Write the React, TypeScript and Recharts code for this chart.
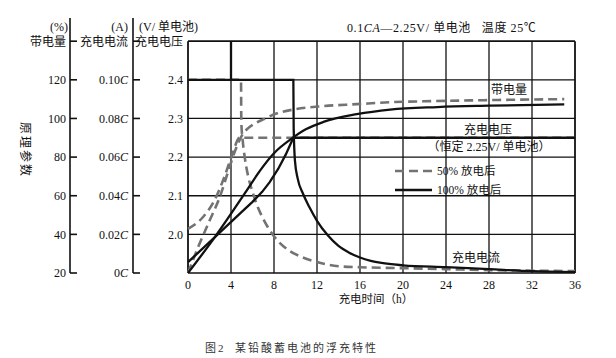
import { LineChart, Line, XAxis, YAxis, ReferenceLine } from 'recharts';

const hours = [0, 4, 8, 12, 16, 20, 24, 28, 32, 36];
const gridHours = [4, 8, 12, 16, 20, 24, 28, 32];
const pctTicks = [20, 40, 60, 80, 100, 120, 140];
const ampTicks = [0, 0.02, 0.04, 0.06, 0.08, 0.1, 0.12];
const voltTicks = [2.0, 2.1, 2.2, 2.3, 2.4, 2.5];
const voltGrid = [2.0, 2.1, 2.2, 2.3, 2.4];

// 100% 放电后 (solid)
const volt100Time = [0, 2.5, 5, 6, 6.9, 7.6, 8.4, 9.1, 9.8, 36];
const volt100 = [1.928, 1.993, 2.058, 2.084, 2.11, 2.135, 2.17, 2.207, 2.25, 2.25];
const cap100Time = [0, 2.5, 5.5, 6.7, 8, 9.7, 11, 12.6, 15.7, 18.8, 23.2, 28, 35];
const cap100 = [20, 38.6, 63, 73, 82, 89.8, 94.5, 98.2, 102.2, 104.6, 105.9, 106.6, 107.3];
const amp100Time = [0, 9.8, 9.83, 9.95, 10.2, 10.7, 11.3, 12, 13, 14, 15, 16, 17, 18, 20, 24, 28, 32, 36];
const amp100 = [0.1, 0.1, 0.075, 0.058, 0.049, 0.041, 0.034, 0.027, 0.0195, 0.014, 0.0105, 0.008, 0.0063, 0.0052, 0.004, 0.003, 0.002, 0.001, 0.0005];
const spikeTime = [4, 4.001];
const spikeAmp = [0.12, 0.1];

// 50% 放电后 (dashed)
const volt50Time = [0, 1.4, 2.5, 3.4, 4.1, 4.8, 36];
const volt50 = [2.014, 2.045, 2.09, 2.15, 2.205, 2.25, 2.25];
const cap50Time = [0, 1.1, 2, 3, 3.7, 4.4, 5.1, 5.6, 6.2, 7, 8.1, 10, 12.6, 15.7, 18.8, 23, 28, 35];
const cap50 = [20, 35.5, 47, 60, 72, 83.5, 92, 95, 97.3, 99.5, 102.3, 104.8, 106.4, 107.4, 108.4, 109, 109.5, 110];
const amp50Time = [0, 4.93, 4.96, 5.1, 5.3, 5.6, 6, 6.5, 7, 8, 9.3, 10.5, 11.8, 14, 16, 20, 24, 28, 32, 36];
const amp50 = [0.1, 0.1, 0.078, 0.068, 0.059, 0.05, 0.042, 0.034, 0.028, 0.019, 0.012, 0.0085, 0.006, 0.0035, 0.003, 0.0025, 0.002, 0.0015, 0.0012, 0.001];

const zip = (ts: number[], vs: number[]) => ts.map((t, i) => ({ t, v: vs[i] }));

const FONT = "'Liberation Serif', 'Noto Sans CJK SC', serif";
const INK = '#111';
const GREY = '#737373';

const near = (a: number, b: number) => Math.abs(a - b) < 1e-6;

function AxisTick(props: any) {
  const { x, y, payload, format, gap, mark } = props;
  return (
    <g>
      {mark && <line x1={x + gap} y1={y} x2={x + gap + 7} y2={y} stroke={INK} strokeWidth={1.6} />}
      <text x={x} y={y} dy="0.36em" textAnchor="end" fontSize={12} fontFamily={FONT} fill={INK}>
        {format(payload.value)}
      </text>
    </g>
  );
}

const pctLabel = (v: number) => (near(v, 140) ? '带电量' : String(v));
const ampLabel = (v: number) => {
  if (near(v, 0.12)) return '充电电流';
  const num = near(v, 0) ? '0' : v.toFixed(2);
  return (
    <>
      <tspan>{num}</tspan>
      <tspan fontStyle="italic">C</tspan>
    </>
  );
};
const voltLabel = (v: number) => (near(v, 2.5) ? '充电电压' : v.toFixed(1));

export default function App() {
  return (
    <div style={{ position: 'relative', width: 616, height: 358, background: '#fff' }}>
      <style>{'body{margin:0;background:#fff}'}</style>
      <LineChart width={616} height={358} margin={{ top: 18, right: 41, left: 10, bottom: 55 }}>
        <XAxis
          dataKey="t"
          type="number"
          domain={[0, 36]}
          ticks={hours}
          interval={0}
          tickLine={false}
          tickSize={0}
          tickMargin={7}
          height={30}
          axisLine={{ stroke: INK, strokeWidth: 1.6 }}
          tick={{ fill: INK, fontSize: 12, fontFamily: FONT }}
        />
        <YAxis
          yAxisId="a_v"
          type="number"
          domain={[1.9, 2.56]}
          ticks={voltTicks}
          interval={0}
          width={55}
          axisLine={false}
          tickLine={false}
          tickSize={0}
          tickMargin={5}
          allowDataOverflow
          tick={<AxisTick format={voltLabel} gap={5} mark={false} />}
        />
        <YAxis
          yAxisId="b_c"
          type="number"
          domain={[0, 0.132]}
          ticks={ampTicks}
          interval={0}
          width={63}
          axisLine={{ stroke: INK, strokeWidth: 1.6 }}
          tickLine={false}
          tickSize={0}
          tickMargin={5}
          allowDataOverflow
          tick={<AxisTick format={ampLabel} gap={5} mark />}
        />
        <YAxis
          yAxisId="c_p"
          type="number"
          domain={[20, 152]}
          ticks={pctTicks}
          interval={0}
          width={60}
          axisLine={{ stroke: INK, strokeWidth: 1.6 }}
          tickLine={false}
          tickSize={0}
          tickMargin={4}
          allowDataOverflow
          tick={<AxisTick format={pctLabel} gap={4} mark />}
        />

        {voltGrid.map((v) => (
          <ReferenceLine key={'h' + v} yAxisId="a_v" y={v} stroke={INK} strokeWidth={1.3} />
        ))}
        <ReferenceLine yAxisId="a_v" y={2.5} stroke={INK} strokeWidth={1.8} />
        {gridHours.map((t) => (
          <ReferenceLine
            key={'v' + t}
            yAxisId="a_v"
            segment={[{ x: t, y: 1.9 }, { x: t, y: 2.5 }]}
            stroke={INK}
            strokeWidth={1.3}
          />
        ))}
        <ReferenceLine yAxisId="a_v" segment={[{ x: 0, y: 1.9 }, { x: 0, y: 2.5 }]} stroke={INK} strokeWidth={1.8} />
        <ReferenceLine yAxisId="a_v" segment={[{ x: 36, y: 1.9 }, { x: 36, y: 2.5 }]} stroke={INK} strokeWidth={1.8} />

        {/* 50% 放电后 */}
        <Line yAxisId="a_v" data={zip(volt50Time, volt50)} dataKey="v" type="monotone" stroke={GREY} strokeWidth={2.6} strokeDasharray="9 5" dot={false} isAnimationActive={false} />
        <Line yAxisId="c_p" data={zip(cap50Time, cap50)} dataKey="v" type="monotone" stroke={GREY} strokeWidth={2.6} strokeDasharray="9 5" dot={false} isAnimationActive={false} />
        <Line yAxisId="b_c" data={zip(amp50Time, amp50)} dataKey="v" type="monotone" stroke={GREY} strokeWidth={2.6} strokeDasharray="9 5" dot={false} isAnimationActive={false} />

        {/* 100% 放电后 */}
        <Line yAxisId="a_v" data={zip(volt100Time, volt100)} dataKey="v" type="linear" stroke={INK} strokeWidth={2.3} dot={false} isAnimationActive={false} />
        <Line yAxisId="c_p" data={zip(cap100Time, cap100)} dataKey="v" type="monotone" stroke={INK} strokeWidth={2.3} dot={false} isAnimationActive={false} />
        <Line yAxisId="b_c" data={zip(amp100Time, amp100)} dataKey="v" type="monotone" stroke={INK} strokeWidth={2.3} dot={false} isAnimationActive={false} />
        <Line yAxisId="b_c" data={zip(spikeTime, spikeAmp)} dataKey="v" type="linear" stroke={INK} strokeWidth={2.3} dot={false} isAnimationActive={false} />
      </LineChart>

      <svg
        width={616}
        height={358}
        style={{ position: 'absolute', left: 0, top: 0, pointerEvents: 'none' }}
        fontFamily={FONT}
        fill={INK}
      >
        <text x={68} y={27} dy="0.36em" fontSize={12} textAnchor="end">(%)</text>
        <text x={128} y={27} dy="0.36em" fontSize={12} textAnchor="end">(A)</text>
        <text x={139} y={27} dy="0.36em" fontSize={12}>(V/ 单电池)</text>
        <text x={347} y={28} dy="0.36em" fontSize={12} letterSpacing={0.6}>
          0.1<tspan fontStyle="italic">CA</tspan>—2.25V/ 单电池{'\u00a0\u00a0\u00a0'}温度 25℃
        </text>
        <text x={25} y={150} fontSize={12} textAnchor="middle" dy="0.36em" letterSpacing={2} transform="rotate(90 25 150)">
          原理参数
        </text>

        <text x={509} y={90} dy="0.36em" fontSize={12} textAnchor="middle">带电量</text>
        <text x={488} y={130} dy="0.36em" fontSize={12} textAnchor="middle">充电电压</text>
        <text x={489} y={147} dy="0.36em" fontSize={12} textAnchor="middle">（恒定 2.25V/ 单电池）</text>
        <text x={476} y={258} dy="0.36em" fontSize={12} textAnchor="middle">充电电流</text>

        <line x1={395} y1={171} x2={432} y2={171} stroke={GREY} strokeWidth={2.6} strokeDasharray="9 5" />
        <text x={437} y={171} dy="0.36em" fontSize={11.5}>50% 放电后</text>
        <line x1={395} y1={190} x2={432} y2={190} stroke={INK} strokeWidth={2.6} />
        <text x={437} y={190} dy="0.36em" fontSize={11.5}>100% 放电后</text>

        <text x={376} y={299} dy="0.36em" fontSize={11.5} textAnchor="middle">充电时间（h）</text>
        <text x={205} y={348} dy="0.36em" fontSize={11} letterSpacing={2} fill="#333">图2{'\u00a0\u00a0'}某铅酸蓄电池的浮充特性</text>
      </svg>
    </div>
  );
}
